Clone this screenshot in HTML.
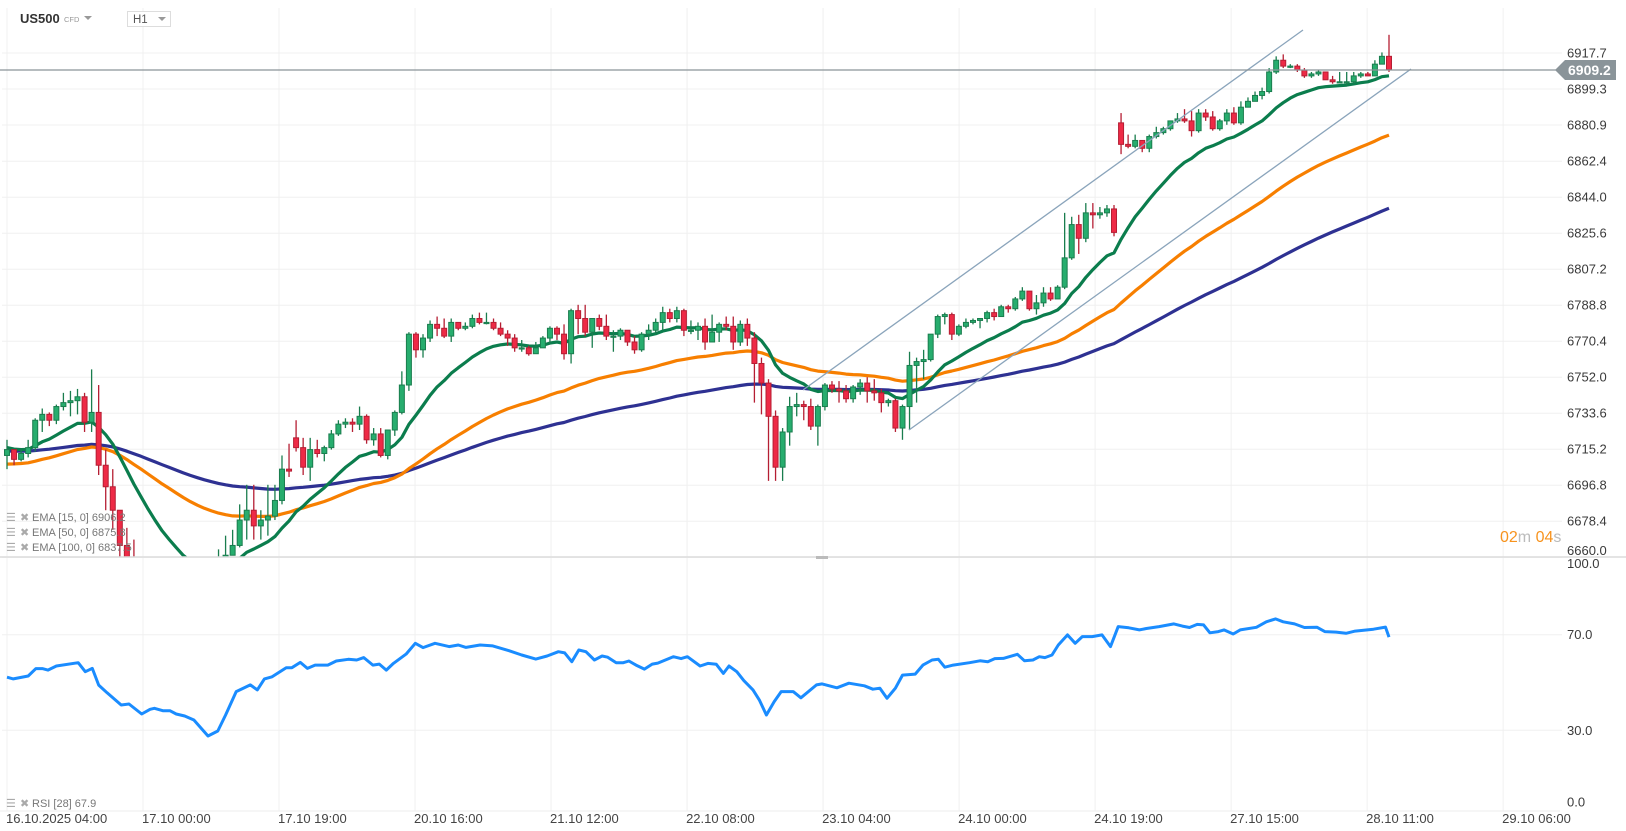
<!DOCTYPE html>
<html><head><meta charset="utf-8"><style>
html,body{margin:0;padding:0;background:#fff;}
svg{display:block;font-family:"Liberation Sans",Arial,sans-serif;}
</style></head><body>
<svg id="chart" width="1626" height="831" viewBox="0 0 1626 831" xmlns="http://www.w3.org/2000/svg">
<defs><clipPath id="mainClip"><rect x="0" y="0" width="1560" height="557"/></clipPath>
<clipPath id="rsiClip"><rect x="0" y="558" width="1560" height="252"/></clipPath></defs>
<rect x="0" y="0" width="1626" height="831" fill="#fff"/>
<g id="grid"></g>
<g id="priceAxis"></g>
<g id="rsiAxis"></g>
<g id="timeAxis"></g>
<g clip-path="url(#mainClip)">
 <g id="emas"></g>
 <g id="candles"></g>
 <line x1="803" y1="390" x2="1303" y2="30" stroke="#8aa4bb" stroke-width="1.3"/>
 <line x1="909" y1="430" x2="1411" y2="69" stroke="#8aa4bb" stroke-width="1.3"/>
</g>
<g clip-path="url(#rsiClip)"><path id="rsiLine" fill="none" stroke="#1a8cff" stroke-width="3" stroke-linejoin="round"/></g>
<line x1="0" y1="70" x2="1558" y2="70" stroke="#8a9499" stroke-width="1.3"/>
<g>
 <path d="M1555 70 L1565 60 L1616 60 L1616 80 L1565 80 Z" fill="#8a9499"/>
 <text x="1568" y="75" font-size="14" font-weight="bold" fill="#fff">6909.2</text>
</g>
<line x1="0" y1="557" x2="1626" y2="557" stroke="#dcdcdc" stroke-width="1.5"/>
<rect x="816" y="556" width="12" height="3" fill="#bbb"/>
<line x1="0" y1="811" x2="1560" y2="811" stroke="#eee" stroke-width="1"/>
<g>
 <text x="20" y="23" font-size="13" font-weight="bold" fill="#333">US500</text>
 <text x="64" y="22" font-size="7.5" fill="#999">CFD</text>
 <path d="M84 16 L92 16 L88 20 Z" fill="#999"/>
</g>
<g>
 <rect x="127.5" y="11.5" width="43" height="15" fill="#fff" stroke="#ddd"/>
 <text x="133" y="23" font-size="11.5" fill="#555">H1</text>
 <path d="M158 17 L166 17 L162 21 Z" fill="#999"/>
</g>
<g font-size="11" fill="#777">
 <g><text x="6" y="521" fill="#aaa">☰</text><text x="20" y="521" fill="#aaa">✖</text><text x="32" y="521">EMA [15, 0] 6906.2</text></g>
 <g><text x="6" y="536" fill="#aaa">☰</text><text x="20" y="536" fill="#aaa">✖</text><text x="32" y="536">EMA [50, 0] 6875.8</text></g>
 <g><text x="6" y="551" fill="#aaa">☰</text><text x="20" y="551" fill="#aaa">✖</text><text x="32" y="551">EMA [100, 0] 6837.5</text></g>
</g>
<g font-size="11" fill="#777"><text x="6" y="807" fill="#aaa">☰</text><text x="20" y="807" fill="#aaa">✖</text><text x="32" y="807">RSI [28] 67.9</text></g>
<g font-size="16"><text x="1500" y="542"><tspan fill="#f7931e">02</tspan><tspan fill="#bbb">m </tspan><tspan fill="#f7931e">04</tspan><tspan fill="#bbb">s</tspan></text></g>
</svg>
<script>
const closes=[6715,6710,6713,6716,6730,6733,6730,6737,6739,6740,6742,6729,6734,6707,6696,6684,6666,
6656,6648,6646,6641,6638,6636,6638,6636,6633,6638,6641,6646,6651,6656,6661,6666,
6679,6684,6676,6679,6681,6689,6705,6704,6716,6706,6715,6713,6716,6723,6728,6729,6728,
6732,6720,6723,6712,6725,6734,6748,6774,6766,6772,
6779,6777,6773,6780,6777,6778,6782,6780,6780,6777,
6774,6772,6767,6767,6764,6767,6772,6777,6774,6764,
6786,6782,6775,6782,6778,6773,6773,6776,6770,6766,
6774,6776,6780,6785,6782,6786,6776,6776,6778,6770,
6775,6779,6778,6770,6779,6772,6759,6749,6732,6706,
6724,6737,6738,6737,6727,6737,6748,6746,6745,6741,
6747,6749,6745,6744,6739,6740,6726,6737,6758,6760,
6761,6774,6783,6784,6774,6778,6780,6781,6782,6785,
6783,6788,6787,6792,6796,6787,6790,6795,6792,6798,
6813,6830,6823,6836,6835,6836,6838,6826,6871,6870,
6873,6869,6875,6877,6879,6883,6884,6883,6878,6887,
6885,6879,6883,6887,6882,6890,6893,6896,6898,6908,
6914,6911,6911,6909,6906,6907,6908,6904,6903,6903,
6903,6906,6907,6906,6912,6916,6909.2];
const highs=[6720,6715,6715,6720,6731,6736,6734,6738,6744,6745,6746,6744,6756,6748,6715,6705,6684,
6675,6669,6652,6648,6644,6641,6642,6641,6639,6643,6646,6653,6659,6664,6671,6674,
6687,6697,6697,6684,6697,6697,6712,6718,6730,6721,6721,6720,6717,6725,6730,6731,6731,
6737,6733,6726,6726,6725,6735,6755,6775,6775,6774,
6781,6783,6782,6782,6780,6780,6784,6785,6785,6782,
6780,6776,6774,6771,6768,6770,6773,6778,6778,6779,
6787,6789,6789,6782,6784,6784,6776,6777,6776,6773,
6775,6779,6782,6788,6787,6788,6787,6781,6780,6782,
6784,6780,6783,6783,6781,6782,6775,6762,6751,6735,
6726,6742,6744,6740,6741,6738,6749,6750,6750,6748,
6748,6751,6752,6751,6746,6741,6741,6738,6765,6762,
6766,6774,6784,6785,6785,6779,6782,6782,6782,6786,
6787,6789,6789,6793,6798,6796,6794,6798,6798,6799,
6836,6834,6835,6841,6841,6839,6840,6840,6887,6876,
6876,6873,6876,6880,6880,6883,6887,6889,6888,6889,
6889,6888,6884,6889,6890,6893,6895,6898,6900,6910,
6916,6917,6912,6912,6910,6908,6909,6908,6906,6908,
6908,6908,6908,6908,6914,6918,6927];
const lows=[6705,6707,6709,6711,6714,6724,6727,6728,6735,6732,6733,6724,6724,6702,6684,6674,6659,
6651,6643,6641,6636,6633,6630,6632,6629,6628,6631,6634,6638,6643,6648,6653,6661,
6665,6669,6669,6669,6671,6679,6687,6701,6714,6702,6699,6711,6709,6715,6722,6726,6724,
6725,6718,6717,6711,6710,6722,6733,6745,6762,6762,
6770,6773,6772,6770,6776,6776,6777,6779,6779,6776,
6773,6768,6765,6765,6763,6764,6767,6769,6771,6761,
6759,6774,6773,6767,6776,6771,6765,6771,6768,6764,
6765,6771,6774,6776,6780,6780,6773,6774,6771,6766,
6770,6770,6776,6766,6768,6768,6739,6733,6699,6699,
6699,6717,6732,6730,6725,6717,6735,6744,6739,6739,
6739,6743,6739,6740,6734,6737,6724,6720,6725,6739,
6751,6760,6772,6779,6771,6773,6777,6779,6777,6780,
6781,6783,6785,6786,6791,6786,6784,6788,6791,6792,
6797,6812,6815,6821,6828,6833,6834,6824,6866,6869,
6869,6867,6867,6874,6876,6878,6882,6882,6875,6877,
6883,6878,6878,6881,6881,6881,6890,6893,6894,6897,
6907,6910,6910,6908,6905,6905,6906,6904,6902,6903,
6901,6902,6905,6906,6906,6912,6908];
const firstOpen=6712;
const gapIdx=[41,158];
const gapOpen=[6721,6882];
const emaPeriods=[15,50,100];
const emaSeeds=[6716,6707.6,6714.3];
const priceTicks=[6917.7,6899.3,6880.9,6862.4,6844.0,6825.6,6807.2,6788.8,6770.4,6752.0,6733.6,6715.2,6696.8,6678.4,6660.0];
const rsiTicks=[100,70,30,0];
const timeLabels=["16.10.2025  04:00","17.10  00:00","17.10  19:00","20.10  16:00","21.10  12:00","22.10  08:00","23.10  04:00","24.10  00:00","24.10  19:00","27.10  15:00","28.10  11:00","29.10  06:00"];
const timeTickStep=19.29;
const rsiIdx=[0,0.9,3,4.1,5,5.8,7,10.1,11.1,12.1,13,14.2,16.2,17.3,19.1,20.3,20.9,22.1,23.1,24,25.2,26.5,28.5,29.9,31,32.5,34.5,35.5,36.5,37.6,39.6,40.4,41.6,42.6,43.7,45.5,46.7,48.4,49.6,50.6,51.9,52.8,53.8,54.8,56.6,57.9,59,60.7,62.7,64,65.1,67.1,68.9,71.2,73,75,76.6,78.2,79.1,80.1,81.1,82.1,83.3,84.4,85.2,86.4,87.4,88.2,89.2,90.4,91.5,92.3,94.5,95.6,96.5,98.3,99.4,100.6,101.6,102.4,103.5,104.5,105.8,106.7,107.7,108.8,109.8,111.5,112.6,114.8,115.6,117.7,119.4,121.6,122.8,123.8,124.8,126,127,128.8,129.9,131.2,132.1,133,134.2,136.5,138,139.1,140.1,141.3,143.3,144.3,145.5,146.4,147.2,148.2,149.1,150.4,151.5,152.5,153.9,155.3,156.5,157.6,159.1,160.6,161.6,163.4,165.5,166.7,167.7,168.8,169.7,170.6,171.8,172.6,173.9,174.9,177.2,178.6,179.9,181,182.6,184,185.8,186.9,188.5,189.9,191.2,193.8,195.5,196];
const rsiVal=[52.2,51.5,52.7,55.8,55.8,55.2,56.9,58.3,54.5,55.9,48.9,45.7,40.6,41,36.8,38.8,39.2,38.2,38.2,36.8,36,34.3,27.6,29.7,36.4,46.2,49,46.9,51.5,52.4,56.2,56.2,58.4,55.9,57.3,57.3,59,59.7,59.4,60.4,57.3,57.7,55.2,58,61.9,66.4,64.6,66.4,65,65.7,64.7,65.7,65.3,63.3,61.5,59.8,61.1,62.9,62.4,58.7,63.6,62.9,59.4,61.1,60.6,58.3,58.3,59,57.3,55.6,57.7,58.1,60.8,60,60.8,56.9,58,57.6,53.8,56.9,54.5,50.8,46.9,42.7,36.4,42,46.2,46.2,43.6,49,49.4,47.8,49.7,48.6,47.2,47.6,43.4,47.6,53.1,53.5,57.3,59.4,59.7,56.4,57.3,58.3,59.1,58.7,60,60.1,61.8,59.1,59.4,60.8,60.4,61.5,65.7,69.9,66.4,69.2,69.2,69.9,65,73.4,72.9,72,72.6,73.4,74.5,73.6,73,74.3,74.1,70.8,71.3,72,70.3,72,73.1,75.4,76.6,75.4,74.5,73,73.1,71.3,71.1,70.6,71.5,72.3,73.2,69];

const NS="http://www.w3.org/2000/svg";
const X0=7, XSTEP=(1389-7)/(closes.length-1);
function xOf(i){return X0+i*XSTEP;}
function yP(p){return 53+(6917.7-p)*1.9565;}
function yR(v){return 802-v*2.39;}
function mk(tag,attrs,parent){const e=document.createElementNS(NS,tag);for(const k in attrs)e.setAttribute(k,attrs[k]);parent.appendChild(e);return e;}

const grid=document.getElementById('grid');
for(let k=0;k<timeLabels.length;k++){
  const x=xOf(k*timeTickStep);
  const l=mk('line',{x1:x,y1:8,x2:x,y2:811,stroke:'#f0f0f0','stroke-width':1},grid);
  
  
  const t=mk('text',{x:x-1,y:823,'font-size':13,fill:'#444','xml:space':'preserve'},document.getElementById('timeAxis'));
  t.textContent=timeLabels[k];
  
  
}
const pa=document.getElementById('priceAxis');
priceTicks.forEach(p=>{
  const y=yP(p);
  const l=mk('line',{x1:2,y1:y,x2:1562,y2:y,stroke:'#f0f0f0','stroke-width':1},grid);
  
  
  const t=mk('text',{x:1567,y:(p===6660?y-2:y+4.5),'font-size':13,fill:'#3a3a3a'},pa);
  t.textContent=p.toFixed(1);
  
  
});
const ra=document.getElementById('rsiAxis');
rsiTicks.forEach(v=>{
  const y=yR(v);
  if(v!==100&&v!==0){const l=mk('line',{x1:2,y1:y,x2:1562,y2:y,stroke:'#f0f0f0','stroke-width':1},grid);
  
  }
  const t=mk('text',{x:1567,y:(v===100?y+5:y+4.5),'font-size':13,fill:'#3a3a3a'},ra);
  t.textContent=v.toFixed(1);
  
  
});

const emaColors=['#0b7d4d','#f77f00','#2e3192'];
const emaG=document.getElementById('emas');
[2,1,0].forEach(k=>{
  const a=2/(emaPeriods[k]+1);let e=emaSeeds[k];let d='';
  for(let i=0;i<closes.length;i++){
    if(i>0)e=e+a*(closes[i]-e);
    d+=(i?'L':'M')+xOf(i).toFixed(1)+' '+yP(e).toFixed(1);
  }
  const p=mk('path',{d:d,fill:'none',stroke:emaColors[k],'stroke-width':3.2,'stroke-linejoin':'round'},emaG);
  
  
});

const cg=document.getElementById('candles');
for(let i=0;i<closes.length;i++){
  const gi=gapIdx.indexOf(i);
  const o=i===0?firstOpen:(gi>=0?gapOpen[gi]:closes[i-1]);
  const c=closes[i];
  const up=c>=o;
  const fill=up?'#27ad6e':'#ee2a46', edge=up?'#1a7d4e':'#b51e33';
  const x=xOf(i);
  const g=mk('g',{},cg);
  
  
  mk('line',{x1:x,y1:yP(highs[i]),x2:x,y2:yP(lows[i]),stroke:edge,'stroke-width':1.3},g);
  const top=yP(Math.max(o,c)),h=Math.max(1.2,yP(Math.min(o,c))-top);
  mk('rect',{x:x-2.5,y:top,width:5,height:h,fill:fill,stroke:edge,'stroke-width':1},g);
}

let d='';
const n=Math.min(rsiIdx.length,rsiVal.length);
for(let i=0;i<n;i++)d+=(i?'L':'M')+xOf(rsiIdx[i]).toFixed(1)+' '+yR(rsiVal[i]).toFixed(1);
document.getElementById('rsiLine').setAttribute('d',d);
</script>
</body></html>
